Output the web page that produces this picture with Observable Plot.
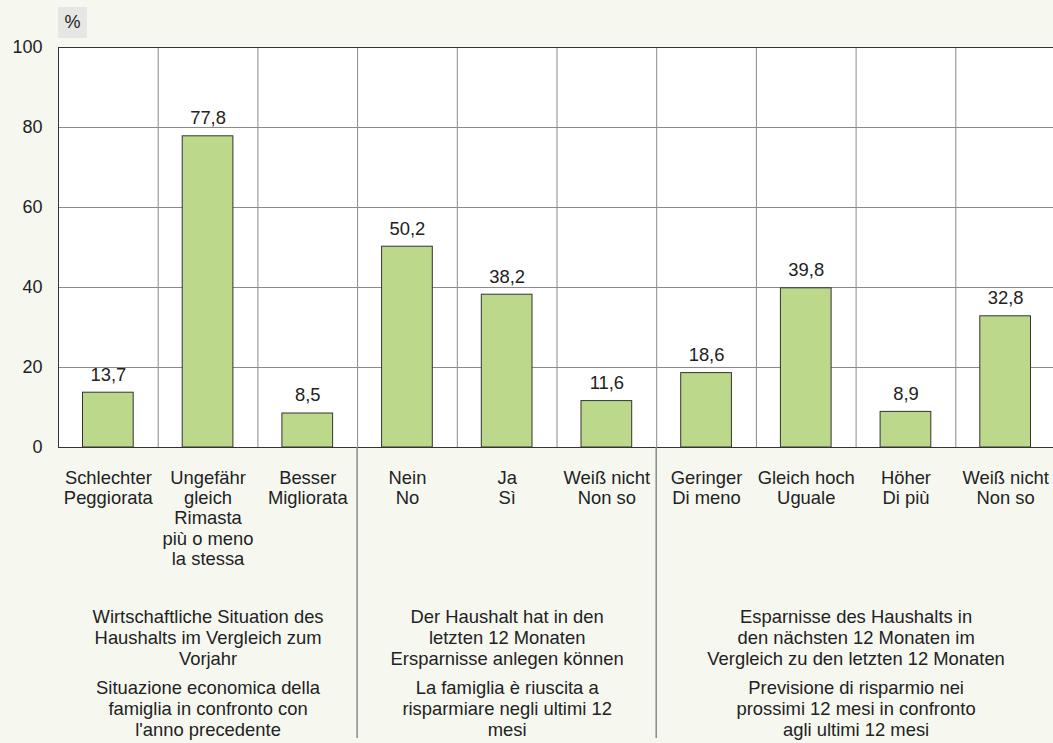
<!DOCTYPE html>
<html>
<head>
<meta charset="utf-8">
<script src="https://cdn.jsdelivr.net/npm/d3@7"></script>
<script src="https://cdn.jsdelivr.net/npm/@observablehq/plot@0.6"></script>
<style>
  html, body { margin: 0; padding: 0; background: #f6f8f0; }
  #wrap { position: relative; width: 1053px; height: 743px; overflow: hidden; font-family: "Liberation Sans", Arial, sans-serif; color: #222; }
  #unit { position: absolute; left: 58px; top: 7px; width: 29px; height: 31px; background: #e6e7e5; font-size: 18px; line-height: 31px; text-align: center; color: #222; }
</style>
</head>
<body>
<div id="wrap"><div id="unit">%</div></div>
<script>
const categories = [
  "Schlechter\nPeggiorata",
  "Ungefähr\ngleich\nRimasta\npiù o meno\nla stessa",
  "Besser\nMigliorata",
  "Nein\nNo",
  "Ja\nSì",
  "Weiß nicht\nNon so",
  "Geringer\nDi meno",
  "Gleich hoch\nUguale",
  "Höher\nDi più",
  "Weiß nicht\nNon so"
];
const values = [13.7, 77.8, 8.5, 50.2, 38.2, 11.6, 18.6, 39.8, 8.9, 32.8];
const yTicks = [0, 20, 40, 60, 80, 100];
const groupStart = [0, 3, 6];
const groupEnd = [3, 6, 10];
const groupDe = [
  "Wirtschaftliche Situation des\nHaushalts im Vergleich zum\nVorjahr",
  "Der Haushalt hat in den\nletzten 12 Monaten\nErsparnisse anlegen können",
  "Esparnisse des Haushalts in\nden nächsten 12 Monaten im\nVergleich zu den letzten 12 Monaten"
];
const groupIt = [
  "Situazione economica della\nfamiglia in confronto con\nl'anno precedente",
  "La famiglia è riuscita a\nrisparmiare negli ultimi 12\nmesi",
  "Previsione di risparmio nei\nprossimi 12 mesi in confronto\nagli ultimi 12 mesi"
];

const rows = categories.map((label, i) => ({i, label, value: values[i]}));
const groups = groupDe.map((de, k) => ({start: groupStart[k], end: groupEnd[k], de, it: groupIt[k]}));
const fmt = v => v.toFixed(1).replace(".", ",");
const font = "Liberation Sans, Arial, sans-serif";
const fs = 18.4;

const plot = Plot.plot({
  width: 1053,
  height: 743,
  marginTop: 47,
  marginBottom: 296,
  marginLeft: 58,
  marginRight: 0,
  x: {domain: [0, 10], range: [58, 1055], axis: null},
  y: {domain: [0, 100], ticks: yTicks, tickSize: 0, tickPadding: 16, label: null, tickFormat: d => String(d)},
  style: {background: "transparent", fontFamily: font, fontSize: "18px", color: "#222", overflow: "visible"},
  marks: [
    Plot.frame({fill: "white", stroke: "none"}),
    Plot.ruleY(yTicks.filter(d => d > 0 && d < 100), {stroke: "#8a8a8a"}),
    Plot.ruleX(d3.range(1, 10), {stroke: "#8a8a8a"}),
    Plot.rectY(rows, {x1: "i", x2: d => d.i + 1, y: "value", fill: "#bcd98b", stroke: "#333", strokeWidth: 1, insetLeft: 24.5, insetRight: 24.5}),
    Plot.ruleY([0, 100], {stroke: "#333"}),
    Plot.ruleX([0], {stroke: "#333"}),
    Plot.text(rows, {x: d => d.i + 0.5, y: "value", text: d => fmt(d.value), dy: -18, fontSize: fs, fill: "#222"}),
    Plot.text(rows, {x: d => d.i + 0.5, y: () => 0, text: "label", lineAnchor: "top", dy: 22, lineHeight: 1.1, fontSize: fs, fill: "#222"}),
    Plot.text(groups, {x: d => (d.start + d.end) / 2, y: () => 0, text: "de", lineAnchor: "top", dy: 160, lineHeight: 1.16, fontSize: fs, fill: "#222"}),
    Plot.text(groups, {x: d => (d.start + d.end) / 2, y: () => 0, text: "it", lineAnchor: "top", dy: 231, lineHeight: 1.16, fontSize: fs, fill: "#222"})
  ]
});

// group separators below the plot area, positioned through the scales
const xs = plot.scale("x"), ys = plot.scale("y");
const svg = d3.select(plot);
groups.slice(1).forEach(g => {
  svg.append("line")
    .attr("x1", xs.apply(g.start)).attr("x2", xs.apply(g.start))
    .attr("y1", ys.apply(0)).attr("y2", 738)
    .attr("stroke", "#8a8a8a").attr("stroke-width", 1.5);
});

document.getElementById("wrap").prepend(plot);
plot.style.position = "absolute";
plot.style.left = "0";
plot.style.top = "0";
</script>
</body>
</html>
